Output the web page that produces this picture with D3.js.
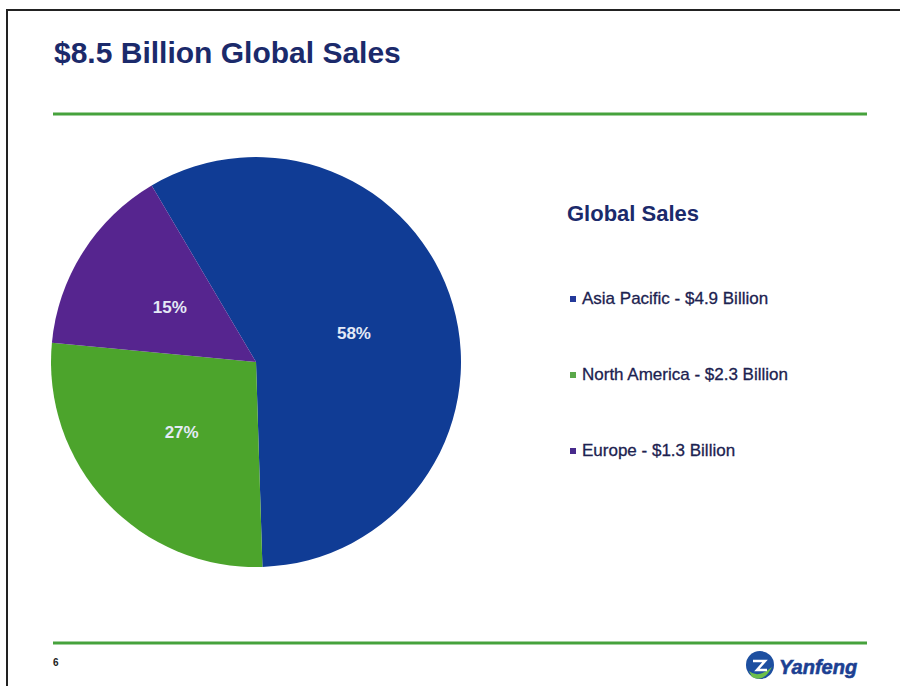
<!DOCTYPE html>
<html>
<head>
<meta charset="utf-8">
<script src="https://cdn.jsdelivr.net/npm/d3@7"></script>
<style>
  body { margin: 0; background: #fff; }
  svg { display: block; font-family: Arial, "Liberation Sans", sans-serif; }
</style>
</head>
<body>
<div id="chart"></div>
<script>
// chart data
var regions = ['Asia Pacific', 'North America', 'Europe'];
var sales = [4.9, 2.3, 1.3];          // $ billion
var shares = [58, 27, 15];            // percent shown on slices
var colors = ['#103c95', '#4ca42c', '#56258f'];
var legendColors = ['#24399a', '#5aa84a', '#472a8c'];

var width = 900, height = 686;

var svg = d3.select('#chart').append('svg')
    .attr('width', width)
    .attr('height', height);

// slide frame
svg.append('path')
    .attr('d', 'M7,' + height + 'V10H' + width)
    .attr('fill', 'none')
    .attr('stroke', '#222')
    .attr('stroke-width', 2);

// title
svg.append('text')
    .attr('x', 54)
    .attr('y', 63)
    .attr('fill', '#1b2a6b')
    .style('font-size', '30px')
    .style('font-weight', 'bold')
    .text('$8.5 Billion Global Sales');

// green rules
[114, 643].forEach(function(y) {
    svg.append('line')
        .attr('x1', 53).attr('x2', 867)
        .attr('y1', y).attr('y2', y)
        .attr('stroke', '#46a23c')
        .attr('stroke-width', 3);
});

// pie
var cx = 256, cy = 362, radius = 205;
var start = -0.085 * 2 * Math.PI;

var pie = d3.pie()
    .sort(null)
    .startAngle(start)
    .endAngle(start + 2 * Math.PI);

var arc = d3.arc().innerRadius(0).outerRadius(radius);
var labelArc = d3.arc().innerRadius(102).outerRadius(102);

var g = svg.append('g')
    .attr('transform', 'translate(' + cx + ',' + cy + ')');

var slices = g.selectAll('.slice')
    .data(pie(shares))
    .enter().append('g')
        .attr('class', 'slice');

slices.append('path')
    .attr('d', arc)
    .attr('fill', (d, i) => colors[i]);

slices.append('text')
    .attr('transform', d => 'translate(' + labelArc.centroid(d) + ')')
    .attr('text-anchor', 'middle')
    .attr('dy', '0.35em')
    .attr('fill', '#e4eaf6')
    .style('font-size', '17px')
    .style('font-weight', 'bold')
    .text(d => d.data + '%');

// legend
svg.append('text')
    .attr('x', 567)
    .attr('y', 221)
    .attr('fill', '#1b2a6b')
    .style('font-size', '22px')
    .style('font-weight', 'bold')
    .text('Global Sales');

var legend = svg.selectAll('.legend')
    .data(regions)
    .enter().append('g')
        .attr('class', 'legend')
        .attr('transform', (d, i) => 'translate(570,' + (299 + i * 76) + ')');

legend.append('rect')
    .attr('x', 0)
    .attr('y', -3)
    .attr('width', 6)
    .attr('height', 6)
    .attr('fill', (d, i) => legendColors[i]);

legend.append('text')
    .attr('x', 12)
    .attr('y', 5)
    .attr('fill', '#1c2250')
    .attr('stroke', '#1c2250')
    .attr('stroke-width', 0.3)
    .style('font-size', '17px')
    .text((d, i) => d + ' - $' + sales[i].toFixed(1) + ' Billion');

// page number
svg.append('text')
    .attr('x', 53)
    .attr('y', 666)
    .attr('fill', '#222')
    .style('font-size', '10px')
    .style('font-weight', 'bold')
    .text('6');

// logo
var logo = svg.append('g')
    .attr('transform', 'translate(760,665)');
logo.append('circle')
    .attr('r', 14)
    .attr('fill', '#1d4fa0');
logo.append('path')
    .attr('d', 'M-11,6 Q-2,14 12,2 Q4,18 -8,12 Z')
    .attr('fill', '#6cbf4a');
logo.append('path')
    .attr('d', 'M-7,-4 L5,-4 L-3,5 L7,5')
    .attr('fill', 'none')
    .attr('stroke', '#fff')
    .attr('stroke-width', 2.5);
svg.append('text')
    .attr('x', 779)
    .attr('y', 674)
    .attr('fill', '#1c3f92')
    .attr('stroke', '#1c3f92')
    .attr('stroke-width', 0.6)
    .style('font-size', '20px')
    .style('font-weight', 'bold')
    .style('font-style', 'italic')
    .text('Yanfeng');
</script>
</body>
</html>
